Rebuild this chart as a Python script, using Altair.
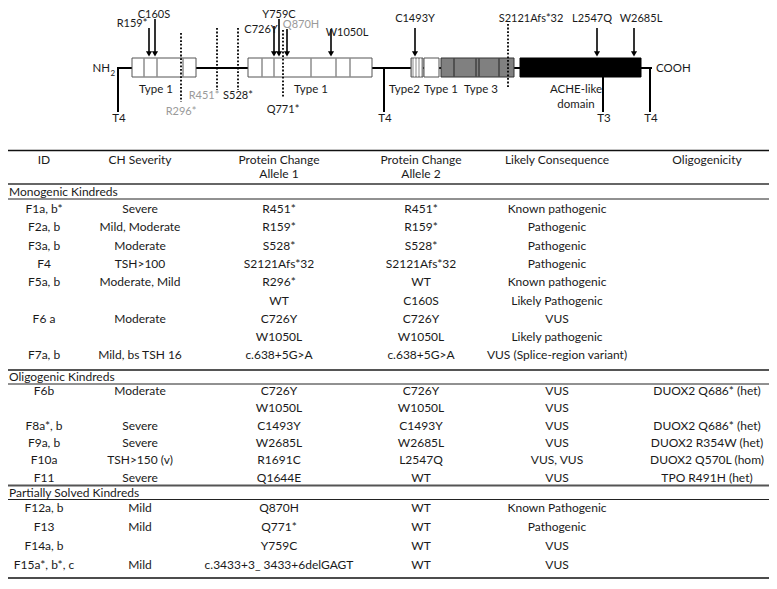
import altair as alt
import pandas as pd

FONT = "Lato"
INK = "#1a1a1a"
GRAY_TXT = "#9a9a9a"

# ======================= DATA (text content) =======================
header_line1 = ["ID", "CH Severity", "Protein Change", "Protein Change", "Likely Consequence", "Oligogenicity"]
header_line2 = ["", "", "Allele 1", "Allele 2", "", ""]
section_names = ["Monogenic Kindreds", "Oligogenic Kindreds", "Partially Solved Kindreds"]

mono_id = ["F1a, b*", "F2a, b", "F3a, b", "F4", "F5a, b", "", "F6 a", "", "F7a, b"]
mono_sev = ["Severe", "Mild, Moderate", "Moderate", "TSH>100", "Moderate, Mild", "", "Moderate", "", "Mild, bs TSH 16"]
mono_a1 = ["R451*", "R159*", "S528*", "S2121Afs*32", "R296*", "WT", "C726Y", "W1050L", "c.638+5G>A"]
mono_a2 = ["R451*", "R159*", "S528*", "S2121Afs*32", "WT", "C160S", "C726Y", "W1050L", "c.638+5G>A"]
mono_cons = ["Known pathogenic", "Pathogenic", "Pathogenic", "Pathogenic", "Known pathogenic",
             "Likely Pathogenic", "VUS", "Likely pathogenic", "VUS (Splice-region variant)"]
mono_oligo = ["", "", "", "", "", "", "", "", ""]

oligo_id = ["F6b", "", "F8a*, b", "F9a, b", "F10a", "F11"]
oligo_sev = ["Moderate", "", "Severe", "Severe", "TSH>150 (v)", "Severe"]
oligo_a1 = ["C726Y", "W1050L", "C1493Y", "W2685L", "R1691C", "Q1644E"]
oligo_a2 = ["C726Y", "W1050L", "C1493Y", "W2685L", "L2547Q", "WT"]
oligo_cons = ["VUS", "VUS", "VUS", "VUS", "VUS, VUS", "VUS"]
oligo_oligo = ["DUOX2 Q686* (het)", "", "DUOX2 Q686* (het)", "DUOX2 R354W (het)", "DUOX2 Q570L (hom)", "TPO R491H (het)"]

part_id = ["F12a, b", "F13", "F14a, b", "F15a*, b*, c"]
part_sev = ["Mild", "Mild", "", "Mild"]
part_a1 = ["Q870H", "Q771*", "Y759C", "c.3433+3_ 3433+6delGAGT"]
part_a2 = ["WT", "WT", "WT", "WT"]
part_cons = ["Known Pathogenic", "Pathogenic", "VUS", "VUS"]
part_oligo = ["", "", "", ""]

# protein diagram annotations
arrow_variants = ["R159*", "C160S", "C726Y", "Y759C", "Q870H", "W1050L", "C1493Y", "L2547Q", "W2685L"]
arrow_known = [False, False, False, False, True, False, False, False, False]
dotted_variants = ["R296*", "R451*", "S528*", "Q771*", "S2121Afs*32"]
dotted_known = [True, True, False, False, False]
domain_labels = ["Type 1", "Type 1", "Type2", "Type 1", "Type 3", "ACHE-like", "domain"]
stem_labels = ["T4", "T4", "T3", "T4"]

# ======================= LAYOUT (positions / styles) =======================
col_x = [44, 140, 279, 421, 557, 707]
head_y = [160, 174]
sec_label_y = [191.5, 377, 492.5]
sec_first_y = [209, 391, 507.5]
sec_pitch = [18.3, 17.3, 19.0]
table_lines_y = [150.5, 184, 199, 370, 384, 485.5, 499.5, 578]
table_lines_w = [1.5, 1.6, 1.0, 2.0, 1.0, 2.0, 1.0, 1.5]
table_lines_c = ["#111", "#333", "#222", "#555", "#222", "#555", "#222", "#111"]
TX0, TX1 = 8, 769

arrow_x = [149, 155, 274, 279, 287, 331, 415, 597, 634]
arrow_top = [28, 19, 26, 19, 29, 29, 28, 28, 28]
arrow_lab_x = [132, 154, 261, 279, 301, 347, 415, 592, 641]
arrow_lab_y = [24, 14.5, 30, 14.5, 24.5, 33, 19, 19, 19]
dotted_x = [181, 217, 238, 283, 508]
dotted_top = [33, 28, 28, 30, 24]
dotted_bot = [102, 90, 90, 98, 88]
dotted_lab_x = [181, 204, 238, 283, 531]
dotted_lab_y = [112, 96, 96, 110, 19]

BOX_Y0, BOX_Y1, BB_Y = 58, 77, 68
boxes_x0 = [132, 248, 411, 424, 441, 520]
boxes_x1 = [196, 372, 423, 439, 514, 641]
boxes_fill = ["white", "white", "#c4c4c4", "white", "#808080", "black"]
boxes_stroke = ["#555", "#555", "#555", "#555", "#333", "black"]
div_x = [144, 157, 183, 262, 274, 311, 336, 350, 414.5, 417.5, 420.5, 454, 476, 479, 499]
div_c = ["#555"] * 8 + ["white"] * 3 + ["#222"] * 4
domain_lab_x = [156, 311, 404.5, 441, 481, 576, 576]
domain_lab_y = [90, 90, 90, 90, 90, 90, 105]
stem_x = [118, 384, 603, 650]
stem_top = [68, 68, 77, 68]
STEM_BOT, STEM_LAB_Y = 112, 119

# ======================= build frames =======================
X = alt.Scale(domain=[8, 769], nice=False, zero=False)
Y = alt.Scale(domain=[8, 581], nice=False, zero=False, reverse=True)


def xe(f="x"):
    return alt.X(f"{f}:Q", scale=X, axis=None)


def ye(f="y"):
    return alt.Y(f"{f}:Q", scale=Y, axis=None)


cells = []
for c in range(6):
    cells.append({"x": col_x[c], "y": head_y[0], "t": header_line1[c]})
    if header_line2[c]:
        cells.append({"x": col_x[c], "y": head_y[1], "t": header_line2[c]})

sections = [
    [mono_id, mono_sev, mono_a1, mono_a2, mono_cons, mono_oligo],
    [oligo_id, oligo_sev, oligo_a1, oligo_a2, oligo_cons, oligo_oligo],
    [part_id, part_sev, part_a1, part_a2, part_cons, part_oligo],
]
for s, cols in enumerate(sections):
    for i in range(len(cols[0])):
        y = sec_first_y[s] + i * sec_pitch[s]
        for c in range(6):
            if cols[c][i]:
                cells.append({"x": col_x[c], "y": y, "t": cols[c][i]})
cells_df = pd.DataFrame(cells)

sec_df = pd.DataFrame({"x": [9] * 3, "y": sec_label_y, "t": section_names})

tl_df = pd.DataFrame({"x": [TX0] * len(table_lines_y), "x2": [TX1] * len(table_lines_y),
                      "y": table_lines_y, "w": table_lines_w, "c": table_lines_c})

table_text = alt.Chart(cells_df).mark_text(font=FONT, fontSize=12, color=INK, align="center",
                                           baseline="middle").encode(x=xe(), y=ye(), text="t:N")
sec_text = alt.Chart(sec_df).mark_text(font=FONT, fontSize=12, color=INK, align="left",
                                       baseline="middle").encode(x=xe(), y=ye(), text="t:N")
table_rules = alt.Chart(tl_df).mark_rule().encode(
    x=xe(), x2="x2:Q", y=ye(), color=alt.Color("c:N", scale=None),
    strokeWidth=alt.StrokeWidth("w:Q", scale=None))

# ---- protein diagram
bb_df = pd.DataFrame({"x": [117], "x2": [652], "y": [BB_Y]})
backbone = alt.Chart(bb_df).mark_rule(color="black", strokeWidth=1.8).encode(x=xe(), x2="x2:Q", y=ye())

stem_df = pd.DataFrame({"x": stem_x, "y": stem_top, "y2": [STEM_BOT] * 4})
stems = alt.Chart(stem_df).mark_rule(color="black", strokeWidth=2).encode(x=xe(), y=ye(), y2="y2:Q")
stem_lab_df = pd.DataFrame({"x": [sx + 1 for sx in stem_x], "y": [STEM_LAB_Y] * 4, "t": stem_labels})
stem_text = alt.Chart(stem_lab_df).mark_text(font=FONT, fontSize=11.5, color=INK, baseline="middle").encode(
    x=xe(), y=ye(), text="t:N")

box_df = pd.DataFrame({"x": boxes_x0, "x2": boxes_x1, "y": [BOX_Y0] * 6, "y2": [BOX_Y1] * 6,
                       "f": boxes_fill, "s": boxes_stroke})
boxes = alt.Chart(box_df).mark_rect(strokeWidth=1).encode(
    x=xe(), x2="x2:Q", y=ye(), y2="y2:Q", fill=alt.Fill("f:N", scale=None),
    stroke=alt.Stroke("s:N", scale=None))

div_df = pd.DataFrame({"x": div_x, "y": [BOX_Y0 + 0.5] * len(div_x), "y2": [BOX_Y1 - 0.5] * len(div_x), "c": div_c})
dividers = alt.Chart(div_df).mark_rule(strokeWidth=1).encode(
    x=xe(), y=ye(), y2="y2:Q", color=alt.Color("c:N", scale=None))

dom_df = pd.DataFrame({"x": domain_lab_x, "y": domain_lab_y, "t": domain_labels})
dom_text = alt.Chart(dom_df).mark_text(font=FONT, fontSize=11.5, color=INK, baseline="middle").encode(
    x=xe(), y=ye(), text="t:N")

nh_df = pd.DataFrame({"x": [110], "y": [69], "t": ["NH"]})
nh_text = alt.Chart(nh_df).mark_text(font=FONT, fontSize=11.5, color=INK, align="right",
                                     baseline="middle").encode(x=xe(), y=ye(), text="t:N")
sub_df = pd.DataFrame({"x": [110.5], "y": [73.5], "t": ["2"]})
sub_text = alt.Chart(sub_df).mark_text(font=FONT, fontSize=8, color=INK, align="left",
                                       baseline="middle").encode(x=xe(), y=ye(), text="t:N")
cooh_df = pd.DataFrame({"x": [656], "y": [69], "t": ["COOH"]})
cooh_text = alt.Chart(cooh_df).mark_text(font=FONT, fontSize=11.5, color=INK, align="left",
                                         baseline="middle").encode(x=xe(), y=ye(), text="t:N")

arr_df = pd.DataFrame({"x": arrow_x, "y": arrow_top, "y2": [52] * len(arrow_x)})
arrow_lines = alt.Chart(arr_df).mark_rule(color="black", strokeWidth=1.6).encode(x=xe(), y=ye(), y2="y2:Q")
head_df = pd.DataFrame({"x": arrow_x, "y": [53.8] * len(arrow_x)})
arrow_heads = alt.Chart(head_df).mark_point(shape="triangle-down", filled=True, color="black",
                                            size=38, opacity=1).encode(x=xe(), y=ye())
arr_lab_df = pd.DataFrame({"x": arrow_lab_x, "y": arrow_lab_y, "t": arrow_variants,
                           "c": [GRAY_TXT if k else INK for k in arrow_known]})
arrow_text = alt.Chart(arr_lab_df).mark_text(font=FONT, fontSize=11, baseline="middle").encode(
    x=xe(), y=ye(), text="t:N", color=alt.Color("c:N", scale=None))

dot_df = pd.DataFrame({"x": dotted_x, "y": dotted_top, "y2": dotted_bot})
dotted = alt.Chart(dot_df).mark_rule(color="black", strokeWidth=1.8, strokeDash=[1.8, 1.8]).encode(
    x=xe(), y=ye(), y2="y2:Q")
dot_lab_df = pd.DataFrame({"x": dotted_lab_x, "y": dotted_lab_y, "t": dotted_variants,
                           "c": [GRAY_TXT if k else INK for k in dotted_known]})
dotted_text = alt.Chart(dot_lab_df).mark_text(font=FONT, fontSize=11, baseline="middle").encode(
    x=xe(), y=ye(), text="t:N", color=alt.Color("c:N", scale=None))

chart = alt.layer(
    backbone, stems, boxes, dividers, dotted, arrow_lines, arrow_heads,
    stem_text, dom_text, nh_text, sub_text, cooh_text, arrow_text, dotted_text,
    table_rules, table_text, sec_text,
).properties(width=761, height=573, padding=0, autosize="none").configure_view(stroke=None)

chart.save("out.html", embed_options={"renderer": "svg", "actions": False})
